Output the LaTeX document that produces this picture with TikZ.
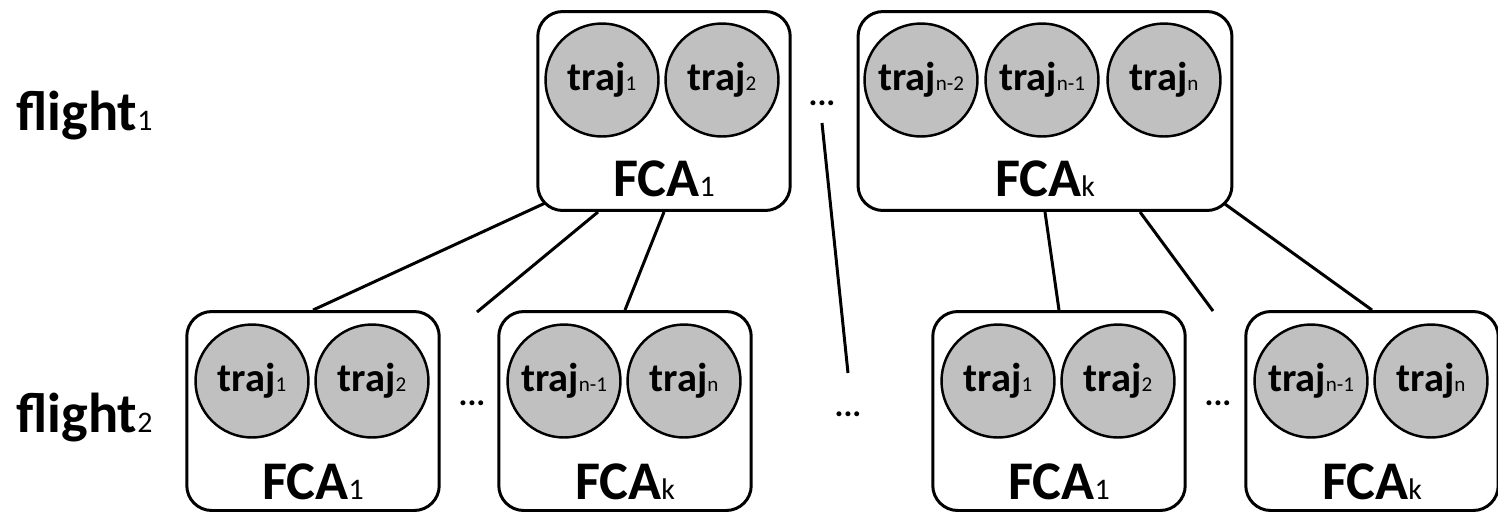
\documentclass[tikz,border=0pt]{standalone}
\usepackage{fontspec}
\setmainfont{Carlito}
\usetikzlibrary{calc}

\definecolor{trajgray}{RGB}{192,192,192}
% small index set on the baseline
\newcommand{\lowidx}[2][12]{{\fontsize{#1}{#1}\selectfont\mdseries #2}}

\begin{document}
\begin{tikzpicture}[x=0.02cm, y=-0.02cm, line width=1.7pt,
    fca/.style={draw, rounded corners=0.5cm, minimum width=5.05cm, minimum height=3.98cm, inner sep=0pt},
    traj/.style={draw, circle, fill=trajgray, line width=1.4pt, minimum size=2.26cm, inner sep=0pt,
      font=\fontsize{23}{23}\selectfont\bfseries},
    fcalabel/.style={anchor=base, inner sep=0pt, font=\fontsize{31}{31}\selectfont\bfseries},
    flightlabel/.style={anchor=base west, inner sep=0pt, font=\fontsize{32}{32}\selectfont\bfseries},
    gapdots/.style={anchor=base, inner sep=0pt, font=\fontsize{19}{19}\selectfont\bfseries}]

    \useasboundingbox (0,0) rectangle (1498,512);

    % Levels
    \node[flightlabel] (flight1) at (15,130) {flight\lowidx[17]{1}};
    \node[flightlabel] (flight2) at (15,432) {flight\lowidx[17]{2}};

    % First flight: two FCA boxes
    \node[fca] (top1) at (664,111) {};
    \node[fca, minimum width=7.48cm] (topk) at (1045,111) {};
    \node[traj] (top1-a) at (602,80) {traj\lowidx{1}};
    \node[traj] (top1-b) at (722,80) {traj\lowidx{2}};
    \node[traj] (topk-a) at (921,80) {traj\lowidx{n-2}};
    \node[traj] (topk-b) at (1042,80) {traj\lowidx{n-1}};
    \node[traj] (topk-c) at (1164,80) {traj\lowidx{n}};
    \node[fcalabel] (top1-lab) at ($(top1.south)+(0,-15)$) {FCA\lowidx[17]{1}};
    \node[fcalabel] (topk-lab) at ($(topk.south)+(0,-15)$) {FCA\lowidx[17]{k}};
    \node[gapdots] (dtop) at (822,105) {...};

    % Second flight: one row of FCA boxes
    \foreach \b/\x/\k/\ia/\ib in {1/313/1/1/2, 2/625/k/n-1/n, 3/1059/1/1/2, 4/1372/k/n-1/n} {
      \node[fca] (bot\b) at (\x,411) {};
      \node[traj] (bot\b-a) at (\x-61,381) {traj\lowidx{\ia}};
      \node[traj] (bot\b-b) at (\x+59,381) {traj\lowidx{\ib}};
      \node[fcalabel] (bot\b-lab) at ($(bot\b.south)+(0,-12)$) {FCA\lowidx[17]{\k}};
    }
    \node[gapdots] (dleft)  at (472,405) {...};
    \node[gapdots] (dmid)   at (848,416) {...};
    \node[gapdots] (dright) at (1218,405) {...};

    % Loose ends of the links
    \coordinate (cornerL) at ($(top1.south west)+(9,-9)$);
    \coordinate (cornerR) at ($(topk.south east)+(-10,-9)$);
    \coordinate (openL) at (477,312);
    \coordinate (openR) at (1213,311);
    \coordinate (gapTop) at (822,123);
    \coordinate (gapBot) at (848,373);

    % Links between the two levels
    \draw (cornerL) -- (bot1.north);
    \draw ($(top1.south)+(-66,0)$) -- (openL);
    \draw (top1.south) -- (bot2.north);
    \draw (gapTop) -- (gapBot);
    \draw (topk.south) -- (bot3.north);
    \draw ($(topk.south)+(95,0)$) -- (openR);
    \draw (cornerR) -- (bot4.north);

  \end{tikzpicture}
\end{document}
